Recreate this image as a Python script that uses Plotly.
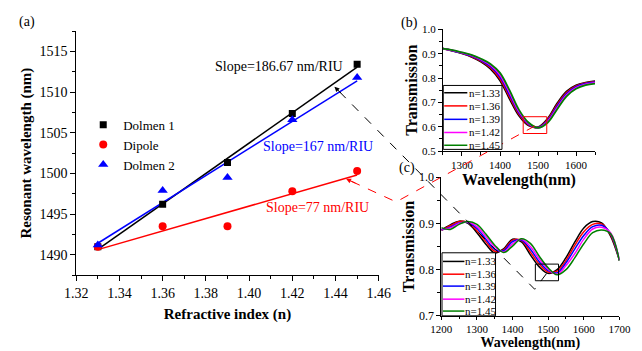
import plotly.graph_objects as go
import numpy as np

W, H = 642, 351
def PX(x):
    return x / W
def PY(y):
    return 1 - y / H

FONT = "Liberation Serif"

# ---------------- panel (a) data ----------------
ri = [1.33, 1.36, 1.39, 1.42, 1.45]
dolmen1 = [1491.0, 1496.2, 1501.35, 1507.35, 1513.4]
dipole = [1491.0, 1493.5, 1493.5, 1497.8, 1500.3]
dolmen2 = [1491.2, 1497.9, 1499.5, 1506.6, 1511.8]
slope_labels = ["Slope=186.67 nm/RIU", "Slope=77 nm/RIU", "Slope=167 nm/RIU"]

# ---------------- panel (b) data ----------------
n_labels = ["n=1.33", "n=1.36", "n=1.39", "n=1.42", "n=1.45"]
curve_colors = ["#000000", "#ff0000", "#0000ff", "#ff00ff", "#008000"]

wl_b = [1250, 1275, 1300, 1325, 1350, 1375, 1400, 1425, 1450, 1475, 1500,
        1525, 1550, 1575, 1600, 1625, 1650]
tb_133 = [0.921, 0.912, 0.901, 0.887, 0.867, 0.838, 0.790, 0.715, 0.645, 0.605, 0.598,
          0.632, 0.695, 0.745, 0.770, 0.781, 0.787]
tb_136 = [0.921, 0.913, 0.902, 0.889, 0.870, 0.843, 0.797, 0.723, 0.651, 0.608, 0.597,
          0.628, 0.689, 0.740, 0.767, 0.779, 0.785]
tb_139 = [0.921, 0.913, 0.903, 0.891, 0.873, 0.848, 0.805, 0.732, 0.657, 0.611, 0.596,
          0.624, 0.683, 0.735, 0.764, 0.777, 0.783]
tb_142 = [0.921, 0.914, 0.904, 0.893, 0.876, 0.853, 0.813, 0.741, 0.663, 0.614, 0.595,
          0.620, 0.677, 0.730, 0.760, 0.774, 0.780]
tb_145 = [0.921, 0.915, 0.905, 0.895, 0.879, 0.858, 0.821, 0.750, 0.669, 0.617, 0.595,
          0.616, 0.671, 0.725, 0.756, 0.771, 0.777]

# ---------------- panel (c) data ----------------
wl_c = [1200, 1225, 1250, 1275, 1300, 1325, 1350, 1375, 1400, 1425, 1450,
        1475, 1500, 1525, 1550, 1575, 1600, 1625, 1650, 1675, 1700]
tc_133 = [0.886, 0.897, 0.905, 0.900, 0.880, 0.855, 0.836, 0.845, 0.866, 0.860, 0.832,
          0.806, 0.792, 0.800, 0.826, 0.860, 0.890, 0.904, 0.901, 0.873, 0.820]
tc_136 = [0.885, 0.895, 0.904, 0.902, 0.884, 0.861, 0.840, 0.843, 0.864, 0.863, 0.838,
          0.812, 0.795, 0.797, 0.820, 0.853, 0.882, 0.898, 0.899, 0.876, 0.821]
tc_139 = [0.886, 0.892, 0.901, 0.902, 0.889, 0.866, 0.844, 0.841, 0.861, 0.864, 0.844,
          0.817, 0.798, 0.793, 0.815, 0.845, 0.874, 0.893, 0.896, 0.878, 0.821]
tc_142 = [0.888, 0.890, 0.900, 0.903, 0.893, 0.872, 0.849, 0.839, 0.856, 0.866, 0.850,
          0.823, 0.801, 0.790, 0.809, 0.835, 0.866, 0.888, 0.892, 0.880, 0.820]
tc_145 = [0.891, 0.887, 0.898, 0.904, 0.898, 0.877, 0.853, 0.837, 0.851, 0.867, 0.857,
          0.829, 0.804, 0.789, 0.800, 0.826, 0.856, 0.880, 0.886, 0.878, 0.819]

fig = go.Figure()

# ---- panel (a): linear fits + markers ----
series_a = [
    ("Dolmen 1", dolmen1, "#000000", "square", 7),
    ("Dipole", dipole, "#ff0000", "circle", 8),
    ("Dolmen 2", dolmen2, "#0000ff", "triangle-up", 9),
]
xfit = np.array([ri[0], ri[-1]])
for name, ys, col, sym, sz in series_a:
    coef = np.polyfit(ri, ys, 1)
    fig.add_trace(go.Scatter(x=xfit, y=np.polyval(coef, xfit), mode="lines",
                             line=dict(color=col, width=1.5), showlegend=False,
                             hoverinfo="skip", xaxis="x", yaxis="y"))
for name, ys, col, sym, sz in series_a:
    fig.add_trace(go.Scatter(x=ri, y=ys, mode="markers", name=name,
                             marker=dict(color=col, symbol=sym, size=sz),
                             xaxis="x", yaxis="y"))

# ---- panel (b) ----
for lab, ys, col in zip(n_labels, [tb_133, tb_136, tb_139, tb_142, tb_145], curve_colors):
    fig.add_trace(go.Scatter(x=wl_b, y=ys, mode="lines", name=lab,
                             line=dict(color=col, width=1.8, shape="spline"),
                             showlegend=False, xaxis="x2", yaxis="y2"))
# ---- panel (c) ----
for lab, ys, col in zip(n_labels, [tc_133, tc_136, tc_139, tc_142, tc_145], curve_colors):
    fig.add_trace(go.Scatter(x=wl_c, y=ys, mode="lines", name=lab,
                             line=dict(color=col, width=1.5, shape="spline"),
                             showlegend=False, xaxis="x3", yaxis="y3"))


def axis(**kw):
    d = dict(showline=True, linecolor="black", linewidth=1, ticks="outside",
             ticklen=5, tickwidth=1, tickcolor="black", showgrid=False,
             zeroline=False, mirror=False,
             minor=dict(ticks="outside", ticklen=3, tickwidth=1, tickcolor="black",
                        showgrid=False))
    d.update(kw)
    return d

title_font_a = dict(family=FONT, size=15, color="black", weight="bold")
title_font_bc = dict(family=FONT, size=16, color="black", weight="bold")
title_font_c = dict(family=FONT, size=14, color="black", weight="bold")

fig.update_layout(
    width=W, height=H, margin=dict(l=0, r=0, t=0, b=0),
    plot_bgcolor="white", paper_bgcolor="white",
    font=dict(family=FONT, color="black"),
    xaxis=axis(domain=[PX(66.7), PX(381)], range=[1.32, 1.46], dtick=0.02,
               tick0=1.32, tickformat=".2f", minor_dtick=0.01,
               tickfont=dict(family=FONT, size=14),
               title=dict(text="Refractive index (n)", font=title_font_a, standoff=8),
               anchor="y"),
    yaxis=axis(domain=[PY(279.3), PY(25)], range=[1487.5, 1517.5], dtick=5,
               tick0=1490, minor_dtick=2.5, tickfont=dict(family=FONT, size=14),
               title=dict(text="Resonant wavelength (nm)", font=title_font_a, standoff=4),
               anchor="x"),
    xaxis2=axis(domain=[PX(447.7), PX(605.7)], range=[1250, 1650], dtick=100,
                tick0=1300, minor_dtick=50, tickfont=dict(family=FONT, size=11),
                ticklen=4,
                title=dict(text="Wavelength(nm)", font=title_font_bc, standoff=0),
                anchor="y2"),
    yaxis2=axis(domain=[PY(150), PY(23.3)], range=[0.5, 1.0], dtick=0.1,
                tickformat=".1f", minor_dtick=0.05, tickfont=dict(family=FONT, size=11),
                ticklen=4,
                title=dict(text="Transmission", font=title_font_bc, standoff=0),
                anchor="x2"),
    xaxis3=axis(domain=[PX(446), PX(631)], range=[1200, 1700], dtick=100,
                tick0=1200, minor_dtick=50, tickfont=dict(family=FONT, size=11),
                ticklen=3, minor_ticklen=2,
                title=dict(text="Wavelength(nm)", font=title_font_c, standoff=3),
                anchor="y3"),
    yaxis3=axis(domain=[PY(321.7), PY(177.3)], range=[0.7, 1.0], dtick=0.1,
                tickformat=".1f", minor_dtick=0.05, tickfont=dict(family=FONT, size=12),
                ticklen=4,
                title=dict(text="Transmission", font=title_font_bc, standoff=0),
                anchor="x3"),
    showlegend=True,
    legend=dict(x=PX(74), y=PY(107), xanchor="left", yanchor="top",
                bgcolor="rgba(0,0,0,0)", font=dict(family=FONT, size=13),
                tracegroupgap=0),
)

shapes = []
annotations = []

# zoom rectangles
shapes.append(dict(type="rect", xref="x2", yref="y2", x0=1461, x1=1523, y0=0.572, y1=0.641,
                   line=dict(color="#ff0000", width=1)))
shapes.append(dict(type="rect", xref="x3", yref="y3", x0=1464, x1=1529, y0=0.776, y1=0.812,
                   line=dict(color="black", width=1)))

# dashed connectors
def path(pts):
    s = "M {:.5f},{:.5f}".format(PX(pts[0][0]), PY(pts[0][1]))
    for x, y in pts[1:]:
        s += " L {:.5f},{:.5f}".format(PX(x), PY(y))
    return s

shapes.append(dict(type="path", xref="paper", yref="paper",
                   path=path([(543, 124), (399, 203), (347, 179)]),
                   line=dict(color="#ff0000", width=1, dash="dash")))
shapes.append(dict(type="path", xref="paper", yref="paper",
                   path=path([(555, 278), (543, 294), (335, 83)]),
                   line=dict(color="black", width=1, dash="dash")))
annotations.append(dict(xref="paper", yref="paper", x=PX(347), y=PY(179), text="",
                        showarrow=True, arrowhead=2, arrowsize=1, arrowwidth=1,
                        arrowcolor="#ff0000", ax=11, ay=5, standoff=0))
annotations.append(dict(xref="paper", yref="paper", x=PX(335), y=PY(83), text="",
                        showarrow=True, arrowhead=2, arrowsize=1, arrowwidth=1,
                        arrowcolor="black", ax=8, ay=8, standoff=0))

# manual legends for (b) and (c)
def small_legend(x0, x1, y0, y1, rows, lx0, lx1, tx, size):
    shapes.append(dict(type="rect", xref="paper", yref="paper", x0=PX(x0), x1=PX(x1),
                       y0=PY(y1), y1=PY(y0), line=dict(color="black", width=1),
                       fillcolor="white", layer="above"))
    for yy, lab, col in zip(rows, n_labels, curve_colors):
        shapes.append(dict(type="line", xref="paper", yref="paper", x0=PX(lx0), x1=PX(lx1),
                           y0=PY(yy), y1=PY(yy), line=dict(color=col, width=1.5),
                           layer="above"))
        annotations.append(dict(xref="paper", yref="paper", x=PX(tx), y=PY(yy), text=lab,
                                showarrow=False, xanchor="left", yanchor="middle",
                                font=dict(family=FONT, size=size, color="black")))

small_legend(448, 509, 81.7, 148.3, [89.3, 103, 117, 130.7, 144], 449, 473, 473, 11)
small_legend(446.7, 502.3, 256, 321.7, [265, 278.3, 290.7, 304.3, 316.7], 447.7, 470, 469, 11)

# panel labels
for txt, x, y in [("(a)", 16, 16), ("(b)", 413, 17), ("(c)", 410, 168)]:
    annotations.append(dict(xref="paper", yref="paper", x=PX(x), y=PY(y), text=txt,
                            showarrow=False, xanchor="center", yanchor="middle",
                            font=dict(family=FONT, size=14, color="black")))

# slope labels (panel a)
for txt, x, y, col in [(slope_labels[0], 1.4140, 1513.1, "#000000"),
                       (slope_labels[2], 1.4319, 1503.3, "#0000ff"),
                       (slope_labels[1], 1.4315, 1495.8, "#ff0000")]:
    annotations.append(dict(xref="x", yref="y", x=x, y=y, text=txt, showarrow=False,
                            xanchor="center", yanchor="middle",
                            font=dict(family=FONT, size=14, color=col)))

fig.update_layout(shapes=shapes, annotations=annotations)
fig.write_html("out.html")
